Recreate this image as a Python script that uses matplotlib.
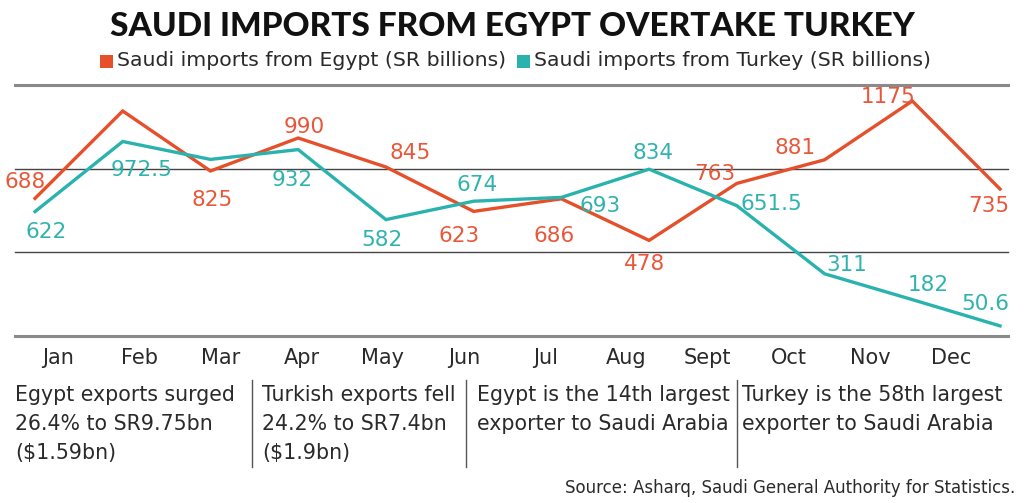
import matplotlib
matplotlib.use("Agg")
import matplotlib.pyplot as plt
from matplotlib.patches import Rectangle
from matplotlib.lines import Line2D

# ---- data ----
months = ["Jan", "Feb", "Mar", "Apr", "May", "Jun", "Jul", "Aug", "Sept", "Oct", "Nov", "Dec"]
egypt = [688, 1125, 825, 990, 845, 623, 686, 478, 763, 881, 1175, 735]
egypt_labels = ["688", None, "825", "990", "845", "623", "686", "478", "763", "881", "1175", "735"]
turkey = [622, 972.5, 883, 932, 582, 674, 693, 834, 651.5, 311, 182, 50.6]
turkey_labels = ["622", "972.5", None, "932", "582", "674", "693", "834", "651.5", "311", "182", "50.6"]

title = "SAUDI IMPORTS FROM EGYPT OVERTAKE TURKEY"
legend_egypt = "Saudi imports from Egypt (SR billions)"
legend_turkey = "Saudi imports from Turkey (SR billions)"
notes = ["Egypt exports surged\n26.4% to SR9.75bn\n($1.59bn)",
         "Turkish exports fell\n24.2% to SR7.4bn\n($1.9bn)",
         "Egypt is the 14th largest\nexporter to Saudi Arabia",
         "Turkey is the 58th largest\nexporter to Saudi Arabia"]
source = "Source: Asharq, Saudi General Authority for Statistics."

# ---- styles / positions ----
ORANGE = "#E5502B"
TEAL = "#2AB3AE"
FONT = "DejaVu Sans"
W, H = 1024, 503

egypt_off = [(-10, 16), None, (2, -29), (6, 11), (24, 14), (-15, -25), (-7, -37),
             (-5, -24), (-22, 9), (-29, 12), (-24, 4), (-11, -17)]
turkey_off = [(11, -20), (19, -28), None, (-6, -30), (-4, -20), (3, 16), (39, -9),
              (4, 16), (35, 2), (22, 9), (16, 15), (-15, 22)]

fig = plt.figure(figsize=(W / 100, H / 100), dpi=100)
fig.patch.set_facecolor("white")

def fx(px):
    return px / W

def fy(py):
    return 1 - py / H

ax = fig.add_axes([fx(15), fy(336), fx(1008) - fx(15), fy(85) - fy(336)])
x = list(range(len(months)))
ax.set_xlim(-0.228, 11.091)
ax.set_ylim(0, 1255)
for s in ax.spines.values():
    s.set_visible(False)
ax.set_yticks([])

for v, c, lw in [(0, "#8a8a8a", 2.2), (418, "#444444", 1.0), (837, "#444444", 1.0), (1255, "#8a8a8a", 2.2)]:
    ax.axhline(v, color=c, lw=lw, zorder=1, clip_on=False)

ax.plot(x, egypt, color=ORANGE, lw=2.4, zorder=3, solid_joinstyle="miter")
ax.plot(x, turkey, color=TEAL, lw=2.4, zorder=3, solid_joinstyle="miter")

for i, (v, lab) in enumerate(zip(egypt, egypt_labels)):
    if lab is None:
        continue
    ax.annotate(lab, (i, v), xytext=egypt_off[i], textcoords="offset pixels",
                ha="center", va="center", color="#E8573A", fontsize=15.5,
                family=FONT, zorder=4, annotation_clip=False)
for i, (v, lab) in enumerate(zip(turkey, turkey_labels)):
    if lab is None:
        continue
    ax.annotate(lab, (i, v), xytext=turkey_off[i], textcoords="offset pixels",
                ha="center", va="center", color="#2FB3AE", fontsize=15.5,
                family=FONT, zorder=4, annotation_clip=False)

tick_pos = [0.262 + 0.9256 * i for i in range(len(months))]
ax.set_xticks(tick_pos)
ax.set_xticklabels(months, fontsize=15, family=FONT, color="#2a2a2a")
ax.tick_params(axis="x", length=0, pad=9)

# title
fig.text(0.5, fy(26), title, ha="center", va="center", fontsize=24,
         fontweight="black", family=["Lato", FONT], color="#111111")

# legend
fig.add_artist(Rectangle((fx(100), fy(68)), fx(13), 13 / H, transform=fig.transFigure,
                         color=ORANGE, lw=0))
fig.text(fx(117), fy(61), legend_egypt, ha="left", va="center", fontsize=14.7,
         family=FONT, color="#2a2a2a")
fig.add_artist(Rectangle((fx(517), fy(68)), fx(13), 13 / H, transform=fig.transFigure,
                         color=TEAL, lw=0))
fig.text(fx(534), fy(61), legend_turkey, ha="left", va="center", fontsize=14.7,
         family=FONT, color="#2a2a2a")

# notes
note_x = [15, 262, 477, 742]
for nx, t in zip(note_x, notes):
    fig.text(fx(nx), fy(385), t, ha="left", va="top", fontsize=14.8,
             family=FONT, color="#2a2a2a", linespacing=1.55)
for dx in [252, 466, 737]:
    fig.add_artist(Line2D([fx(dx), fx(dx)], [fy(380), fy(467)], transform=fig.transFigure,
                          color="#555555", lw=1.0))

fig.text(fx(1015), fy(488), source, ha="right", va="center", fontsize=12,
         family=FONT, color="#2a2a2a")

fig.savefig("out.png", dpi=100, facecolor="white")
